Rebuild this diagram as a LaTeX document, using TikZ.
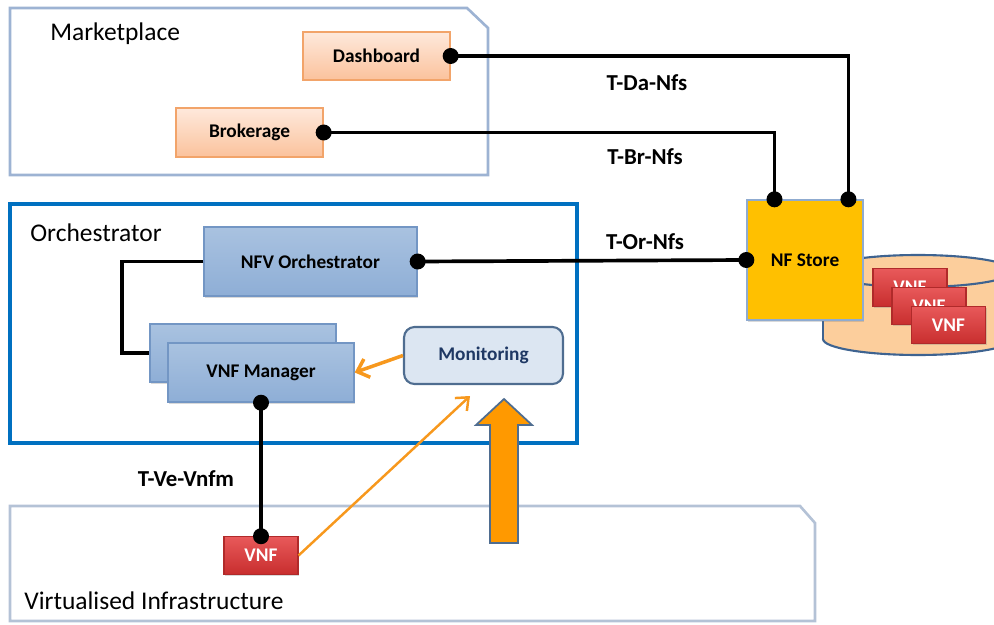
\documentclass[tikz,border=0pt]{standalone}
\usepackage{fontspec}
\setmainfont{Carlito}
\usepackage{tikz}
\usetikzlibrary{arrows.meta, calc, shadows}

\definecolor{arealine}{HTML}{9DB3D3}
\definecolor{infraline}{HTML}{B4C2D6}
\definecolor{orchline}{HTML}{0070C0}
\definecolor{peachtop}{HTML}{FEE9DC}
\definecolor{peachbot}{HTML}{FBC29C}
\definecolor{peachline}{HTML}{F2A46A}
\definecolor{bluetop}{HTML}{A9C2E0}
\definecolor{bluebot}{HTML}{8EAED6}
\definecolor{blueline}{HTML}{7396C4}
\definecolor{redtop}{HTML}{E8595A}
\definecolor{redbot}{HTML}{C82E2E}
\definecolor{redline}{HTML}{B02A2A}
\definecolor{gold}{HTML}{FFC000}
\definecolor{monfill}{HTML}{DCE6F2}
\definecolor{monline}{HTML}{4F6D90}
\definecolor{montext}{HTML}{1F3864}
\definecolor{cylfill}{HTML}{FCCE9C}
\definecolor{cylline}{HTML}{3E6390}
\definecolor{warm}{HTML}{F7981D}
\definecolor{bigarrow}{HTML}{FF9900}

\begin{document}
\begin{tikzpicture}[x=0.02cm, y=-0.02cm,
    area/.style={font=\fontsize{14.5}{17}\selectfont, anchor=west, inner sep=0pt},
    lbl/.style={font=\fontsize{11}{13}\selectfont\bfseries},
    iface/.style={font=\fontsize{13}{15}\selectfont\bfseries},
    orangebox/.style={lbl, draw=peachline, line width=0.8pt, top color=peachtop, bottom color=peachbot,
        drop shadow={shadow xshift=0.6pt, shadow yshift=-0.8pt, opacity=0.25}},
    bluebox/.style={lbl, draw=blueline, line width=0.8pt, top color=bluetop, bottom color=bluebot,
        drop shadow={shadow xshift=0.8pt, shadow yshift=-1pt, opacity=0.3}},
    vnfbox/.style={font=\fontsize{11}{13}\selectfont\bfseries, text=white, draw=redline, line width=0.6pt,
        top color=redtop, bottom color=redbot, minimum width=1.48cm, minimum height=0.75cm,
        drop shadow={shadow xshift=0.6pt, shadow yshift=-0.8pt, opacity=0.3}},
    dot/.style={circle, fill=black, inner sep=0pt, minimum size=0.32cm},
    link/.style={black, line width=2.1pt},
    warr/.style={warm, line width=2pt, -{Straight Barb[length=6pt, width=11pt]}},
    thinarr/.style={warm, line width=1.4pt, -{Straight Barb[length=6pt, width=10pt]}}]

    \clip (0,0) rectangle (994,625);

    % Areas
    \draw[arealine, line width=1.5pt] (10,8) -- (467,8) -- (488,28) -- (488,175) -- (10,175) -- cycle;
    \draw[orchline, line width=2.2pt] (10,204) rectangle (577,443);
    \draw[infraline, line width=1.5pt] (10,506) -- (800,506) -- (815,523) -- (815,621) -- (10,621) -- cycle;
    \node[area] (mkt) at (50,34) {Marketplace};
    \node[area] (orch) at (30,233) {Orchestrator};
    \node[area] (infra) at (24,601) {Virtualised Infrastructure};

    % VNF repository
    \draw[cylline, line width=1.2pt, fill=cylfill] (918,339) ellipse [x radius=95, y radius=16];
    \fill[cylfill] (823,271) rectangle (1013,339);
    \draw[cylline, line width=1.2pt] (823,271) -- (823,339);
    \draw[cylline, line width=1.2pt, fill=cylfill] (918,271) ellipse [x radius=95, y radius=16];

    % Boxes
    \node[orangebox, minimum width=2.94cm, minimum height=0.96cm] (dash) at (376.5,56) {Dashboard};
    \node[orangebox, minimum width=2.94cm, minimum height=0.98cm] (brok) at (249.5,132.5) {Brokerage};
    \node[lbl, draw=blueline!80, line width=0.8pt, fill=gold, minimum width=2.32cm, minimum height=2.4cm,
        drop shadow={shadow xshift=0.8pt, shadow yshift=-1pt, opacity=0.3}] (store) at (805,260) {NF Store};
    \node[vnfbox] (vnfa) at (910,287.5) {VNF};
    \node[vnfbox] (vnfb) at (929,306) {VNF};
    \node[vnfbox] (vnfc) at (948.5,325) {VNF};
    \node[bluebox, minimum width=4.26cm, minimum height=1.38cm] (nfvo) at (310.5,261.5) {NFV Orchestrator};
    \node[bluebox, minimum width=3.72cm, minimum height=1.16cm] (vnfmb) at (243,353) {};
    \node[bluebox, minimum width=3.72cm, minimum height=1.18cm] (vnfm) at (261,372.5) {VNF Manager};
    \node[lbl, text=montext, draw=monline, line width=1.2pt, fill=monfill, rounded corners=6pt,
        minimum width=3.18cm, minimum height=1.14cm] (mon) at (483.5,355.5) {Monitoring};
    \node[vnfbox] (vnf) at (261,555.5) {VNF};

    % Store attachment points
    \coordinate (brin) at ($(store.north west)!0.24!(store.north east)$);
    \coordinate (dain) at ($(store.north west)!0.87!(store.north east)$);
    \coordinate (montip) at (470,396);

    % Interfaces
    \draw[link] (dash.east) -| (dain);
    \draw[link] (brok.east) -| (brin);
    \draw[link] (nfvo.east) -- (store.west);
    \draw[link] (nfvo.west) -- ++(-81,0) |- (vnfmb.west);
    \draw[link] (vnfm.south) -- (vnf.north);
    \node[dot] at (dash.east) {};
    \node[dot] at (brok.east) {};
    \node[dot] at (brin) {};
    \node[dot] at (dain) {};
    \node[dot] at (nfvo.east) {};
    \node[dot] at (store.west) {};
    \node[dot] at (vnfm.south) {};
    \node[dot] at (vnf.north) {};
    \node[iface] (tda) at (647,83) {T-Da-Nfs};
    \node[iface] (tbr) at (645,157) {T-Br-Nfs};
    \node[iface] (tor) at (645,242) {T-Or-Nfs};
    \node[iface] (tve) at (186,479) {T-Ve-Vnfm};

    % Monitoring flows
    \draw[warr] (mon.west) -- (vnfm.east);
    \draw[thinarr] (vnf.east) -- (montip);
    \draw[monline, line width=1pt, fill=bigarrow] (490,543) -- (490,425) -- (476,425) -- (504,399)
        -- (532,425) -- (518,425) -- (518,543) -- cycle;
\end{tikzpicture}
\end{document}
